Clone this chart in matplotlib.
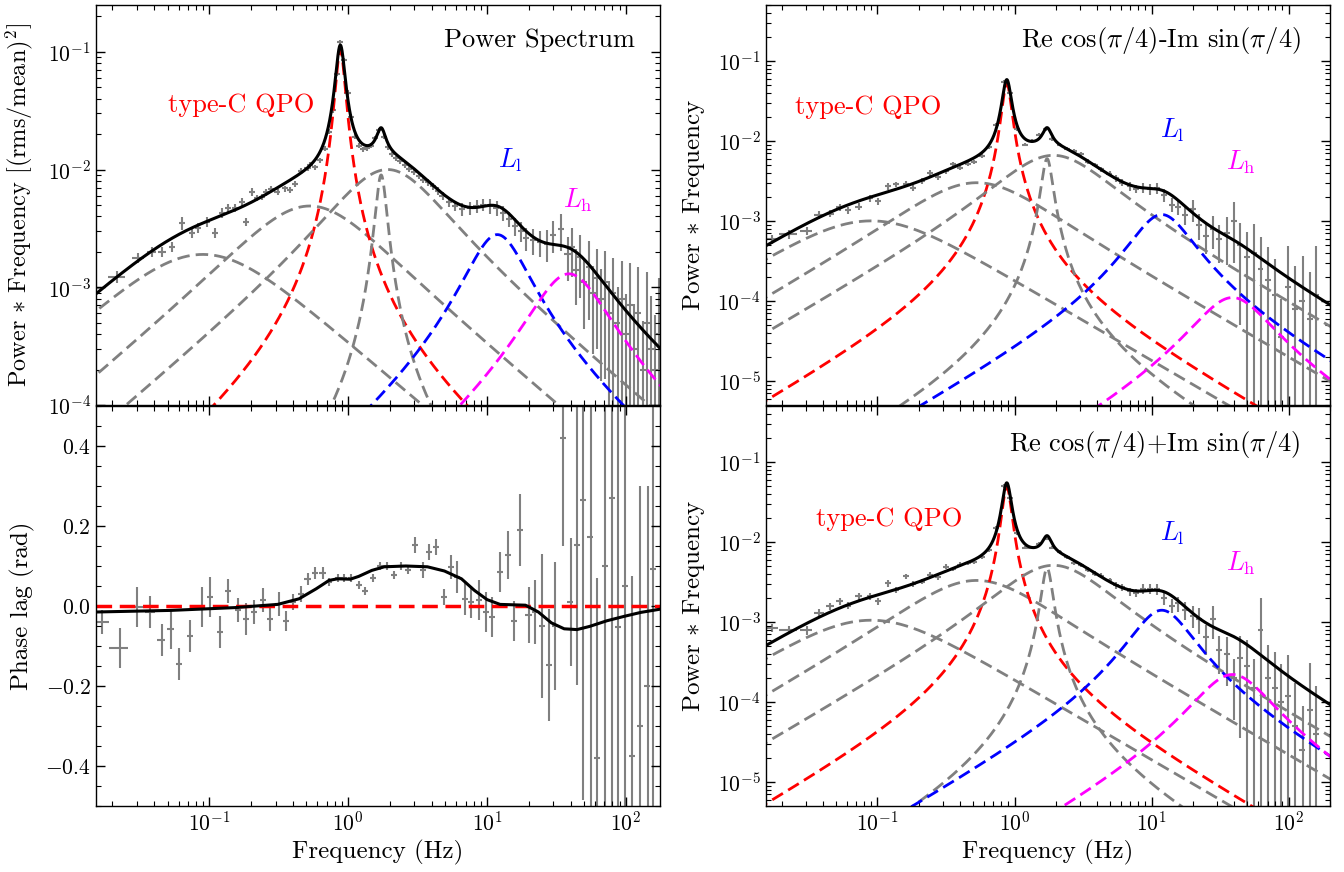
import numpy as np
import matplotlib
matplotlib.use("Agg")
import matplotlib.pyplot as plt
from matplotlib.ticker import MultipleLocator, LogLocator, NullFormatter

plt.rcParams['font.family'] = 'serif'
plt.rcParams['font.serif'] = ['cmr10']
plt.rcParams['mathtext.fontset'] = 'cm'
plt.rcParams['axes.formatter.use_mathtext'] = True
plt.rcParams['axes.unicode_minus'] = False

# ---- Lorentzian components: centroid (Hz), half width (Hz) ----
comp_names = ['low', 'mid', 'qpo', 'harm', 'broad', 'Ll', 'Lh']
comp_nu0 = [0.0, 0.2, 0.875, 1.72, 1.2, 10.5, 32.0]
comp_delta = [0.09, 0.49, 0.068, 0.155, 1.5, 5.5, 22.0]
comp_color = ['gray', 'gray', 'red', 'gray', 'gray', 'blue', 'magenta']

# peak of Power*Frequency for each component, per panel
peak_ps = [1.9e-3, 4.9e-3, 0.104, 9.0e-3, 1.0e-2, 2.8e-3, 1.3e-3]
peak_minus = [1.0e-3, 3.0e-3, 0.052, 6.0e-3, 6.6e-3, 1.2e-3, 1.1e-4]
peak_plus = [1.05e-3, 3.3e-3, 0.049, 4.7e-3, 5.1e-3, 1.4e-3, 2.2e-4]

# ---- power spectrum data ----
ps_freq = [0.0153, 0.0216, 0.0308, 0.0385, 0.0454, 0.0536, 0.0633, 0.0747, 0.0833, 0.0958,
           0.110, 0.123, 0.137, 0.153, 0.171, 0.185, 0.202, 0.220, 0.238, 0.258,
           0.280, 0.310, 0.350, 0.380, 0.415, 0.460, 0.510, 0.535, 0.58, 0.63,
           0.68, 0.73, 0.78, 0.83, 0.88, 0.93, 0.99, 1.05, 1.12, 1.19,
           1.27, 1.36, 1.46, 1.57, 1.68, 1.80, 1.93, 2.07, 2.22, 2.38,
           2.56, 2.76, 2.98, 3.22, 3.48, 3.76, 4.07, 4.41, 4.78, 5.3,
           5.9, 6.6, 7.5, 8.4, 9.4, 10.5, 11.7, 13.1, 14.3, 16.0,
           17.5, 19.2, 21.5, 24.0, 27.0, 30.0, 34.0, 38.0, 41, 44,
           47, 50, 54, 58, 62, 66, 71, 76, 81, 87,
           93, 100, 107, 115, 123, 132, 141, 151, 162, 173]
ps_val = [9.8e-4, 1.23e-3, 1.78e-3, 2.0e-3, 2.0e-3, 2.2e-3, 3.5e-3, 2.9e-3, 3.2e-3, 3.6e-3,
          2.9e-3, 4.3e-3, 4.7e-3, 4.7e-3, 5.3e-3, 3.6e-3, 6.5e-3, 5.7e-3, 5.9e-3, 6.4e-3,
          6.8e-3, 6.5e-3, 6.9e-3, 6.7e-3, 7.6e-3, 9.8e-3, 1.03e-2, 1.1e-2, 1.05e-2, 1.2e-2,
          1.5e-2, 2.1e-2, 3.2e-2, 6.5e-2, 0.12, 0.085, 0.045, 0.028, 0.019, 0.016,
          0.0148, 0.0152, 0.016, 0.0185, 0.0215, 0.019, 0.0155, 0.0135, 0.0125, 0.0118,
          0.011, 0.0102, 0.0095, 0.0088, 0.0082, 0.0078, 0.0072, 0.0066, 0.0060, 0.0053,
          0.0049, 0.0046, 0.0047, 0.0049, 0.0050, 0.0049, 0.0047, 0.0043, 0.0038, 0.0033,
          0.0030, 0.0026, 0.0025, 0.0024, 0.00235, 0.0028, 0.0031, 0.0019, 0.0022, 0.0014,
          0.0018, 0.0011, 0.0015, 0.0009, 0.0012, 0.0008, 0.0011, 0.0006, 0.0009, 0.0005,
          0.0008, 0.0004, 0.0007, 0.0003, 0.0006, 0.0002, 0.0005, 0.0003, 0.0002, 0.0004]
ps_rel = [0.12, 0.12, 0.1, 0.1, 0.1, 0.1, 0.12, 0.1, 0.1, 0.1,
          0.1, 0.1, 0.08, 0.08, 0.08, 0.08, 0.08, 0.06, 0.06, 0.06,
          0.06, 0.06, 0.06, 0.06, 0.06, 0.06, 0.05, 0.05, 0.05, 0.05,
          0.05, 0.05, 0.05, 0.05, 0.05, 0.05, 0.05, 0.05, 0.05, 0.05,
          0.05, 0.05, 0.05, 0.05, 0.05, 0.05, 0.05, 0.05, 0.05, 0.05,
          0.06, 0.06, 0.06, 0.06, 0.06, 0.07, 0.07, 0.08, 0.08, 0.1,
          0.1, 0.12, 0.12, 0.12, 0.12, 0.14, 0.14, 0.15, 0.15, 0.18,
          0.2, 0.22, 0.25, 0.25, 0.3, 0.3, 0.35, 0.4, 0.45, 0.5,
          0.55, 0.6, 0.65, 0.7, 0.75, 0.8, 0.85, 0.9, 0.95, 1.0,
          1.1, 1.2, 1.3, 1.4, 1.5, 1.6, 1.7, 1.8, 1.9, 2.0]

# ---- cross spectral data (phase lag + rotated spectra) ----
cs_freq = [0.0170, 0.0226, 0.0304, 0.0377, 0.0453, 0.0529, 0.0609, 0.0728, 0.0881, 0.1015,
           0.119, 0.137, 0.161, 0.183, 0.211, 0.243, 0.275, 0.315, 0.358, 0.398,
           0.459, 0.510, 0.580, 0.654, 0.728, 0.839, 0.933, 1.05, 1.19, 1.33,
           1.50, 1.70, 1.89, 2.13, 2.42, 2.70, 3.04, 3.46, 3.85, 4.28,
           4.93, 5.48, 6.10, 6.93, 7.71, 8.69, 9.80, 10.9, 12.4, 14.1,
           15.6, 17.4, 19.9, 22.1, 24.8, 28.0, 31.1, 35.3, 39.9, 44.4,
           49.3, 55.6, 62.3, 70.3, 79.3, 88.1, 98.6, 111, 126, 143, 157]
cs_xerr = [0.0018, 0.0035, 0.003, 0.003, 0.003, 0.003, 0.003, 0.004, 0.004, 0.005]

lag_val = [-0.040, -0.104, -0.002, -0.015, -0.086, -0.057, -0.144, -0.076, -0.003, 0.022,
           -0.065, 0.037, -0.011, -0.032, -0.015, 0.016, -0.033, 0.004, -0.037, 0.010,
           0.030, 0.067, 0.083, 0.083, 0.060, 0.070, 0.070, 0.070, 0.052, 0.037,
           0.070, 0.100, 0.100, 0.077, 0.100, 0.089, 0.152, 0.090, 0.135, 0.148,
           0.022, 0.098, 0.072, 0.017, 0.010, 0.015, -0.015, -0.027, 0.085, 0.127,
           -0.038, 0.190, -0.022, -0.015, -0.050, -0.148, -0.050, 0.420, 0.010, 0.152,
           0.264, 0.173, -0.380, 0.100, 0.270, -0.052, 0.050, -0.375, -0.300, -0.200, 0.093]
lag_err = [0.03, 0.05, 0.05, 0.04, 0.04, 0.05, 0.04, 0.04, 0.05, 0.05,
           0.04, 0.03, 0.03, 0.04, 0.03, 0.03, 0.03, 0.03, 0.025, 0.02,
           0.02, 0.015, 0.015, 0.015, 0.01, 0.01, 0.01, 0.01, 0.01, 0.01,
           0.01, 0.01, 0.01, 0.01, 0.01, 0.01, 0.02, 0.02, 0.02, 0.02,
           0.02, 0.03, 0.04, 0.04, 0.04, 0.05, 0.05, 0.05, 0.05, 0.06,
           0.05, 0.09, 0.07, 0.08, 0.18, 0.14, 0.16, 0.27, 0.16, 0.35,
           0.75, 0.70, 0.45, 0.80, 0.80, 0.70, 0.80, 0.45, 0.60, 0.50, 0.75]

minus_val = [5.9e-4, 6.8e-4, 7.5e-4, 1.2e-3, 1.23e-3, 1.47e-3, 1.35e-3, 1.5e-3, 1.94e-3, 1.78e-3,
             2.74e-3, 2.87e-3, 2.9e-3, 2.6e-3, 3.16e-3, 4.0e-3, 3.5e-3, 4.2e-3, 5.1e-3, 4.6e-3,
             5.2e-3, 5.5e-3, 6.5e-3, 8.5e-3, 1.6e-2, 5.5e-2, 4.0e-2, 1.4e-2, 9.0e-3, 1.0e-2,
             1.2e-2, 1.4e-2, 1.05e-2, 9.0e-3, 8.0e-3, 7.4e-3, 6.8e-3, 5.5e-3, 5.0e-3, 4.4e-3,
             3.9e-3, 3.4e-3, 3.0e-3, 2.7e-3, 2.5e-3, 2.6e-3, 2.5e-3, 2.6e-3, 2.1e-3, 1.6e-3,
             1.5e-3, 1.2e-3, 1.4e-3, 9.0e-4, 6.5e-4, 8.0e-4, 6.0e-4, 7.0e-4, 1.0e-3, 5.0e-4,
             3.5e-4, 4.0e-4, 2.5e-4, 1.8e-4, 1.2e-4, 3.5e-5, 1.5e-4, 8.0e-5, 1.0e-4, 6.0e-5, 1.2e-4]
plus_val = [8.5e-4, 8.0e-4, 7.9e-4, 1.3e-3, 1.56e-3, 1.8e-3, 1.6e-3, 2.1e-3, 2.1e-3, 1.8e-3,
            3.05e-3, 2.5e-3, 3.7e-3, 3.0e-3, 3.2e-3, 3.9e-3, 3.6e-3, 4.9e-3, 4.6e-3, 5.2e-3,
            5.4e-3, 5.6e-3, 6.5e-3, 8.0e-3, 1.5e-2, 5.0e-2, 3.5e-2, 1.3e-2, 8.5e-3, 8.5e-3,
            9.5e-3, 1.1e-2, 8.5e-3, 7.5e-3, 6.5e-3, 5.5e-3, 5.2e-3, 4.5e-3, 4.0e-3, 3.8e-3,
            3.3e-3, 2.9e-3, 2.7e-3, 2.4e-3, 2.3e-3, 2.6e-3, 2.6e-3, 2.6e-3, 2.0e-3, 1.6e-3,
            1.7e-3, 1.4e-3, 1.2e-3, 1.1e-3, 6.5e-4, 1.1e-3, 4.5e-4, 4.0e-4, 2.0e-4, 3.5e-4,
            2.8e-4, 1.5e-4, 8.0e-4, 2.0e-4, 1.5e-4, 1.0e-4, 1.2e-4, 5.0e-5, 2.5e-5, 8.0e-5, 4.0e-5]
cs_rel = [0.12, 0.12, 0.12, 0.12, 0.1, 0.1, 0.1, 0.1, 0.1, 0.1,
          0.1, 0.08, 0.08, 0.08, 0.08, 0.08, 0.08, 0.07, 0.07, 0.07,
          0.06, 0.06, 0.06, 0.06, 0.05, 0.05, 0.05, 0.05, 0.05, 0.05,
          0.05, 0.05, 0.05, 0.05, 0.05, 0.06, 0.06, 0.07, 0.07, 0.08,
          0.08, 0.1, 0.1, 0.12, 0.12, 0.14, 0.15, 0.16, 0.18, 0.2,
          0.22, 0.25, 0.3, 0.35, 0.4, 0.45, 0.5, 0.6, 0.7, 0.9,
          1.1, 1.3, 1.5, 1.6, 1.8, 2.0, 2.2, 2.4, 2.6, 2.8, 3.0]

# ---- phase-lag model curve ----
lagmod_freq = [0.0153, 0.0529, 0.153, 0.311, 0.443, 0.588, 0.728, 0.839, 1.036, 1.19,
               1.48, 1.82, 2.60, 3.72, 4.93, 6.54, 8.11, 10.0, 12.4, 15.3,
               18.9, 23.4, 29.0, 35.9, 44.4, 54.8, 72.8, 96.8, 128, 176]
lagmod_val = [-0.015, -0.011, -0.004, 0.004, 0.018, 0.043, 0.064, 0.068, 0.067, 0.074,
              0.089, 0.098, 0.100, 0.098, 0.0875, 0.068, 0.039, 0.016, 0.004, 0.003,
              0.002, -0.015, -0.042, -0.057, -0.059, -0.051, -0.037, -0.026, -0.016, -0.008]


def lorentz(nu, nu0, delta, peak):
    shape = nu * delta / (delta ** 2 + (nu - nu0) ** 2)
    return shape / shape.max() * peak


nu = np.logspace(-2, 2.4, 3000)
DASH = (4.5, 2.2)


def style_axis(ax):
    ax.tick_params(which='both', direction='in', top=True, right=True, labelsize=15.5)
    ax.tick_params(which='major', length=6.5, width=1)
    ax.tick_params(which='minor', length=3.5, width=0.8)
    for s in ax.spines.values():
        s.set_linewidth(1.0)


def power_panel(ax, freq, val, rel, peaks, xerr_low):
    ax.set_xscale('log')
    ax.set_yscale('log')
    f = np.array(freq)
    v = np.array(val)
    xe = f * 0.05
    xe[:len(xerr_low)] = xerr_low
    ax.errorbar(f, v, yerr=v * np.array(rel), xerr=xe, fmt='none',
                ecolor='gray', elinewidth=1.5, capsize=0, zorder=1)
    total = np.zeros_like(nu)
    for n0, d, pk, c in zip(comp_nu0, comp_delta, peaks, comp_color):
        comp = lorentz(nu, n0, d, pk)
        total += comp
        ax.plot(nu, comp, color=c, lw=2, ls=(0, DASH), zorder=2)
    ax.plot(nu, total, color='black', lw=2.2, zorder=3)


fig = plt.figure(figsize=(13.44, 8.72), dpi=100)
L1, L2, W = 0.0712, 0.5697, 0.4199
B1, B2, H = 0.0757, 0.5356, 0.4587
ax_ps = fig.add_axes([L1, B2, W, H])
ax_lag = fig.add_axes([L1, B1, W, H], sharex=ax_ps)
ax_m = fig.add_axes([L2, B2, W, H])
ax_p = fig.add_axes([L2, B1, W, H], sharex=ax_m)

ps_xerr_low = [0.0012, 0.003, 0.003, 0.003, 0.003]
power_panel(ax_ps, ps_freq, ps_val, ps_rel, peak_ps, ps_xerr_low)
power_panel(ax_m, cs_freq, minus_val, cs_rel, peak_minus, cs_xerr)
power_panel(ax_p, cs_freq, plus_val, cs_rel, peak_plus, cs_xerr)

# phase lag panel
f = np.array(cs_freq)
xe = f * 0.05
xe[:len(cs_xerr)] = cs_xerr
ax_lag.errorbar(f, lag_val, yerr=lag_err, xerr=xe, fmt='none',
                ecolor='gray', elinewidth=1.5, capsize=0, zorder=1)
ax_lag.axhline(0.0, color='red', lw=2.5, ls=(0, DASH), zorder=2)
ax_lag.plot(lagmod_freq, lagmod_val, color='black', lw=2.2, zorder=3)
ax_lag.set_xscale('log')
ax_lag.set_ylim(-0.5, 0.5)
ax_lag.yaxis.set_major_locator(MultipleLocator(0.2))
ax_lag.yaxis.set_minor_locator(MultipleLocator(0.05))

ax_ps.set_xlim(0.0152, 176)
ax_ps.set_ylim(1e-4, 0.25)
ax_m.set_xlim(0.0153, 200)
ax_m.set_ylim(5e-6, 0.5)
ax_p.set_ylim(5e-6, 0.5)

for ax in (ax_ps, ax_lag, ax_m, ax_p):
    style_axis(ax)
    ax.xaxis.set_major_locator(LogLocator(base=10, numticks=12))
    ax.xaxis.set_minor_locator(LogLocator(base=10, subs=np.arange(2, 10), numticks=12))
    ax.xaxis.set_minor_formatter(NullFormatter())
for ax in (ax_ps, ax_m, ax_p):
    ax.yaxis.set_major_locator(LogLocator(base=10, numticks=12))
    ax.yaxis.set_minor_locator(LogLocator(base=10, subs=np.arange(2, 10), numticks=12))
    ax.yaxis.set_minor_formatter(NullFormatter())
ax_ps.tick_params(labelbottom=False)
ax_m.tick_params(labelbottom=False)

ax_ps.set_ylabel(r'Power $*$ Frequency [(rms/mean)$^2$]', fontsize=17.5)
ax_lag.set_ylabel('Phase lag (rad)', fontsize=18)
ax_m.set_ylabel(r'Power $*$ Frequency', fontsize=18)
ax_p.set_ylabel(r'Power $*$ Frequency', fontsize=18)
ax_lag.set_xlabel('Frequency (Hz)', fontsize=18)
ax_p.set_xlabel('Frequency (Hz)', fontsize=18)
ax_ps.yaxis.set_label_coords(-0.108, 0.5)
ax_lag.yaxis.set_label_coords(-0.108, 0.5)
ax_m.yaxis.set_label_coords(-0.104, 0.5)
ax_p.yaxis.set_label_coords(-0.104, 0.5)

ax_ps.text(0.956, 0.912, 'Power Spectrum', transform=ax_ps.transAxes,
           ha='right', va='center', fontsize=19)
ax_m.text(0.948, 0.91, r'Re cos($\pi/4$)-Im sin($\pi/4$)', transform=ax_m.transAxes,
          ha='right', va='center', fontsize=19)
ax_p.text(0.948, 0.905, r'Re cos($\pi/4$)+Im sin($\pi/4$)', transform=ax_p.transAxes,
          ha='right', va='center', fontsize=19)

labels = [(ax_ps, 0.258, 0.75, 0.734, 0.6125, 0.855, 0.5125),
          (ax_m, 0.181, 0.745, 0.721, 0.6875, 0.8415, 0.6075),
          (ax_p, 0.218, 0.716, 0.721, 0.681, 0.8415, 0.606)]
for ax, qx, qy, lx, ly, hx, hy in labels:
    ax.text(qx, qy, 'type-C QPO', color='red', transform=ax.transAxes,
            ha='center', va='center', fontsize=19)
    ax.text(lx, ly, r'$L_{\rm l}$', color='blue', transform=ax.transAxes,
            ha='center', va='center', fontsize=19)
    ax.text(hx, hy, r'$L_{\rm h}$', color='magenta', transform=ax.transAxes,
            ha='center', va='center', fontsize=19)

fig.savefig('out.png', dpi=100)
